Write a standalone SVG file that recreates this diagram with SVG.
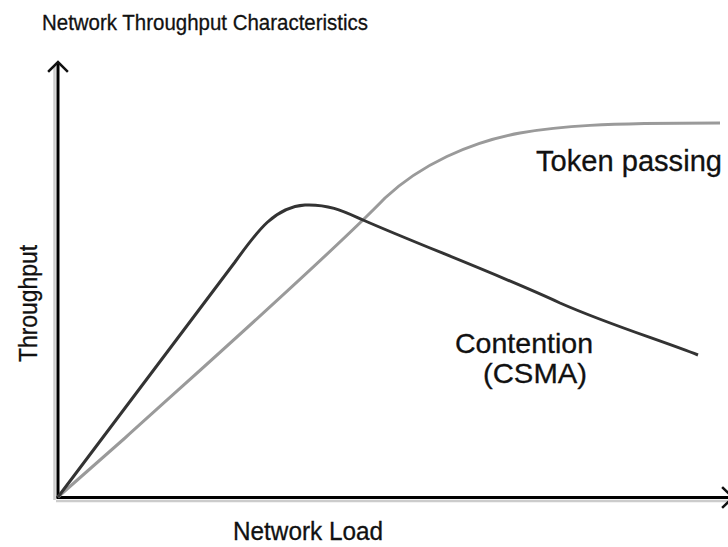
<svg xmlns="http://www.w3.org/2000/svg" width="728" height="547" viewBox="0 0 728 547">
<style>
text { font-family: "Liberation Sans", Arial, sans-serif; fill: #111; stroke: #111; stroke-width: 0.3; }
.axis { stroke: #000; stroke-width: 3; fill: none; }
.shadow { stroke: #ccc; stroke-width: 2.5; fill: none; }
.arrow { stroke: #111; stroke-width: 2.5; fill: none; stroke-linecap: square; }
.csma { stroke: #333; stroke-width: 3; fill: none; stroke-linejoin: round; }
.token { stroke: #9a9a9a; stroke-width: 3; fill: none; stroke-linejoin: round; }
</style>
<rect width="728" height="547" fill="#fff"/>
<text id="title" x="42" y="30" font-size="22" textLength="326" lengthAdjust="spacingAndGlyphs">Network Throughput Characteristics</text>
<g id="axes">
  <line class="shadow" x1="54.5" y1="66" x2="54.5" y2="500"/>
  <line class="shadow" x1="56" y1="501" x2="728" y2="501"/>
  <line class="axis" x1="58" y1="63" x2="58" y2="498"/>
  <line class="axis" x1="56.5" y1="497.5" x2="728" y2="497.5"/>
  <polyline class="arrow" points="49,71 58,62 67,71"/>
  <polyline class="arrow" points="723,488 733,497.5 723,507"/>
</g>
<g id="curves">
  <path id="token-curve" class="token" d="M58,497 L125,438 C200,370 330,255 385,198 C420,165 470,142 520,133 C560,126 600,123 720,123"/>
  <path id="csma-curve" class="csma" d="M58,497 L235,262 C258,230 275,207 305,205 C330,204 345,212 363,220 C420,245 500,275 560,303 C610,325 660,340 698,355"/>
</g>
<g id="label-token"><text x="536" y="171" font-size="29" textLength="186" lengthAdjust="spacingAndGlyphs">Token passing</text></g>
<g id="label-csma">
  <text x="455" y="353" font-size="28.5" textLength="138" lengthAdjust="spacingAndGlyphs">Contention</text>
  <text x="483" y="383" font-size="28.5" textLength="104" lengthAdjust="spacingAndGlyphs">(CSMA)</text>
</g>
<g id="label-x"><text x="233" y="540" font-size="25" textLength="150" lengthAdjust="spacingAndGlyphs">Network Load</text></g>
<g id="label-y"><text transform="translate(37,362) rotate(-90)" font-size="25" textLength="117" lengthAdjust="spacingAndGlyphs">Throughput</text></g>
</svg>
